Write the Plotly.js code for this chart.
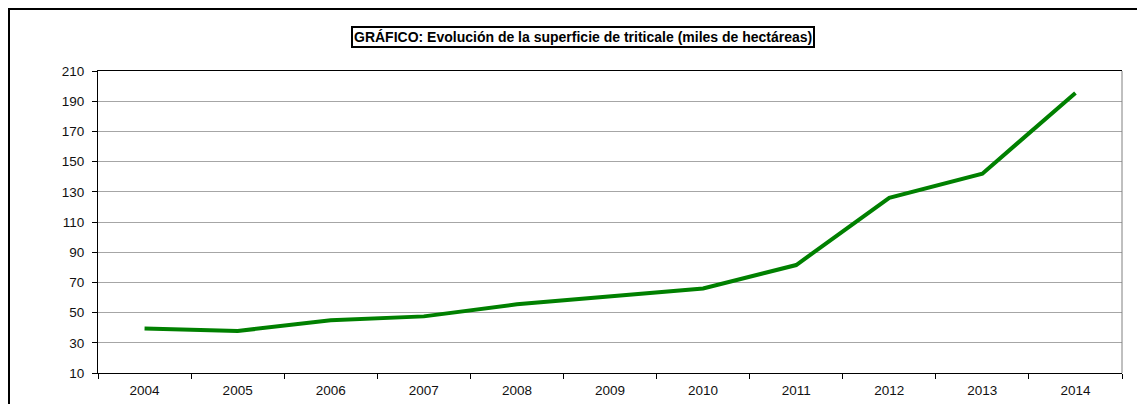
<!DOCTYPE html>
<html>
<head>
<meta charset="utf-8">
<script src="https://cdn.plot.ly/plotly-3.0.1.min.js"></script>
<style>
html,body{margin:0;padding:0;overflow:hidden;background:#fff;}
#chart{position:absolute;left:0;top:0;width:1137px;height:404px;}
#frame{position:absolute;left:8px;top:8px;width:1200px;height:500px;border:2px solid #000;pointer-events:none;}
</style>
</head>
<body>
<div id="chart"></div>
<div id="frame"></div>
<script>
const years = ['2004','2005','2006','2007','2008','2009','2010','2011','2012','2013','2014'];
const superficie = [39.5, 37.8, 45, 47.5, 55.5, 61, 66, 81.5, 126, 142, 195.5];
const yTicks = [10, 30, 50, 70, 90, 110, 130, 150, 170, 190, 210];
const titleText = 'GRÁFICO: Evolución de la superficie de triticale (miles de hectáreas)';

const trace = {
  x: years,
  y: superficie,
  type: 'scatter',
  mode: 'lines',
  line: {color: '#008000', width: 4},
  hoverinfo: 'x+y'
};

const tickFont = {family: 'Liberation Sans, Arial, sans-serif', size: 13.5, color: '#111'};

const layout = {
  width: 1137,
  height: 404,
  margin: {l: 97.5, r: 14.5, t: 71, b: 31, pad: 0},
  paper_bgcolor: '#ffffff',
  plot_bgcolor: '#ffffff',
  showlegend: false,
  font: {family: 'Liberation Sans, Arial, sans-serif', size: 12, color: '#000'},
  xaxis: {
    type: 'category',
    range: [-0.5, 10.5],
    tickson: 'boundaries',
    ticks: 'outside',
    ticklen: 5,
    tickcolor: '#000',
    ticklabelstandoff: 5,
    showline: true,
    linecolor: '#000',
    linewidth: 1,
    mirror: true,
    showgrid: false,
    tickfont: tickFont,
    fixedrange: true
  },
  yaxis: {
    range: [10, 210],
    tickvals: yTicks,
    ticktext: yTicks.map(String),
    ticks: 'outside',
    ticklen: 5,
    tickcolor: '#000',
    ticklabelstandoff: 5,
    showline: true,
    linecolor: '#000',
    linewidth: 1,
    showgrid: true,
    gridcolor: '#a6a6a6',
    gridwidth: 1,
    zeroline: false,
    tickfont: tickFont,
    fixedrange: true
  },
  shapes: [{
    type: 'line', xref: 'paper', yref: 'paper',
    x0: 1, x1: 1, y0: 0, y1: 1,
    line: {color: '#808080', width: 1}
  }],
  annotations: [{
    text: '<b>' + titleText + '</b>',
    xref: 'paper', yref: 'paper',
    x: 0.474, y: 1, yshift: 34,
    xanchor: 'center', yanchor: 'middle',
    showarrow: false,
    font: {family: 'Liberation Sans, Arial, sans-serif', size: 14, color: '#000'},
    bordercolor: '#000',
    borderwidth: 2,
    borderpad: 1,
    bgcolor: '#fff'
  }]
};

Plotly.newPlot('chart', [trace], layout, {displayModeBar: false, staticPlot: true});
</script>
</body>
</html>
